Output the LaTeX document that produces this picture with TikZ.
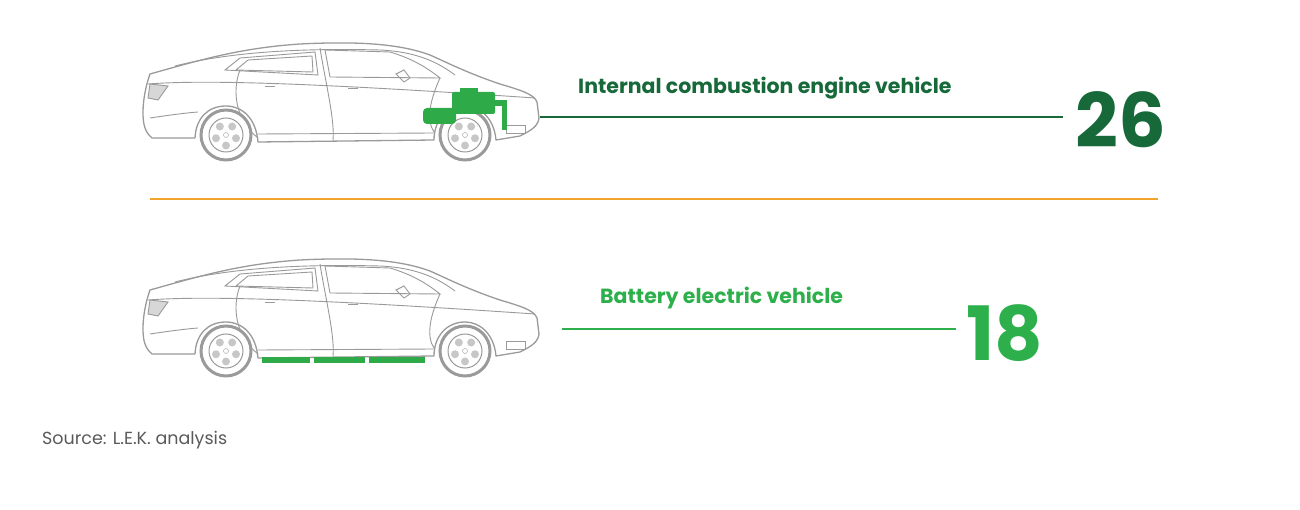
\documentclass[tikz,border=0pt]{standalone}
\usepackage{fontspec}
\setmainfont{Poppins}
\definecolor{dg}{HTML}{17693A}
\definecolor{lg}{HTML}{2DB04B}
\definecolor{eg}{HTML}{2EAA48}
\definecolor{og}{HTML}{F0A42C}
\definecolor{cg}{HTML}{9A9A9A}
\definecolor{tg}{HTML}{5A5A5A}
\begin{document}
\begin{tikzpicture}[x=1pt,y=-1pt,
  body/.style={draw=cg,line width=1.3pt,line join=round},
  thin/.style={draw=cg,line width=0.9pt},
  label/.style={font=\bfseries\fontsize{20.5}{24}\selectfont,anchor=west,inner sep=0},
  num/.style={font=\bfseries\fontsize{75}{80}\selectfont,anchor=west,inner sep=0},
  car/.pic={
    \draw[body,fill=white] (150,74) .. controls (200,60) and (240,48) .. (300,44)
      .. controls (360,41) and (400,44) .. (430,55)
      .. controls (450,64) and (470,74) .. (500,84)
      .. controls (520,90) and (534,94) .. (537,102)
      -- (539,118) .. controls (538,126) and (532,130) .. (520,136)
      -- (496,140) .. controls (494,118) and (480,106) .. (465,106)
      .. controls (447,106) and (434,120) .. (434,140)
      -- (258,142) .. controls (256,118) and (242,106) .. (226,106)
      .. controls (208,106) and (196,118) .. (195,138)
      -- (152,138) .. controls (145,132) and (143,125) .. (143,112)
      .. controls (143,100) and (146,85) .. (150,74) -- cycle;
    \draw[thin] (175,66) .. controls (230,52) and (300,48) .. (380,50) .. controls (420,52) and (440,64) .. (455,75);
    \draw[thin] (225,70) -- (240,58) -- (315,52) -- (318,75) -- cycle;
    \draw[thin] (236,70) -- (248,60) -- (312,56) -- (313,72) -- cycle;
    \draw[thin] (325,50) -- (390,52) .. controls (410,58) and (425,66) .. (440,78) -- (330,77) -- cycle;
    \draw[thin] (320,48) .. controls (325,80) and (335,120) .. (333,140);
    \draw[thin] (240,70) .. controls (232,90) and (235,120) .. (258,138);
    \draw[thin] (440,78) .. controls (430,100) and (426,120) .. (434,132);
    \draw[thin] (148,84) .. controls (200,80) and (300,82) .. (535,98);
    \draw[thin] (150,118) .. controls (170,115) and (185,113) .. (198,112);
    \draw[thin] (258,134) -- (434,133);
    \draw[thin] (348,88) -- (358,88);
    \draw[thin] (265,86) -- (275,86);
    \draw[thin,fill=cg!40] (150,84) -- (168,86) -- (158,100) -- (148,98) -- cycle;
    \draw[thin] (396,74) -- (404,70) -- (410,78) -- (404,82) -- cycle;
    \draw[thin] (506,125) rectangle (525,133);
    \foreach \cx in {226,465}{
      \draw[cg,line width=3pt,fill=white] (\cx,135) circle (25);
      \draw[cg,line width=1pt,fill=white] (\cx,135) circle (17);
      \foreach \a in {90,162,234,306,18}
        \fill[cg!55] (\cx,135) ++(\a:10.5) circle (4);
      \draw[cg,fill=white] (\cx,135) circle (2.5);
    }
  }]
\useasboundingbox (0,0) rectangle (1300,510);
\pic at (0,0) {car};
\fill[eg,rounded corners=2pt] (452,92) rectangle (495,114);
\fill[eg] (460,88) rectangle (478,93);
\fill[eg,rounded corners=4pt] (423,108) rectangle (456,124);
\fill[eg] (495,100) rectangle (503,106);
\fill[eg] (502,100) rectangle (507,130);
\pic at (0,216) {car};
\foreach \a/\b in {262/310,314/365,369/425}
  \fill[eg] (\a,357) rectangle (\b,363);
\node[label,text=dg] (ice) at (578,88) {Internal combustion engine vehicle};
\node[num,text=dg] (n26) at (1075,120) {26};
\coordinate (l1) at (540,117);
\coordinate (l1e) at (1063,117);
\draw[dg,line width=1.5pt] (l1) -- (l1e);
\coordinate (o1) at (150,199); \coordinate (o2) at (1158,199);
\draw[og,line width=1.5pt] (o1) -- (o2);
\node[label,text=lg] (bev) at (600,298) {Battery electric vehicle};
\node[num,text=lg] (n18) at (966,333) {18};
\coordinate (l2) at (562,329);
\coordinate (l2e) at (956,329);
\draw[lg,line width=1.5pt] (l2) -- (l2e);
\node[anchor=west,inner sep=0,text=tg,font=\fontsize{17.5}{20}\selectfont] (src) at (42,440) {Source: L.E.K. analysis};
\end{tikzpicture}
\end{document}
